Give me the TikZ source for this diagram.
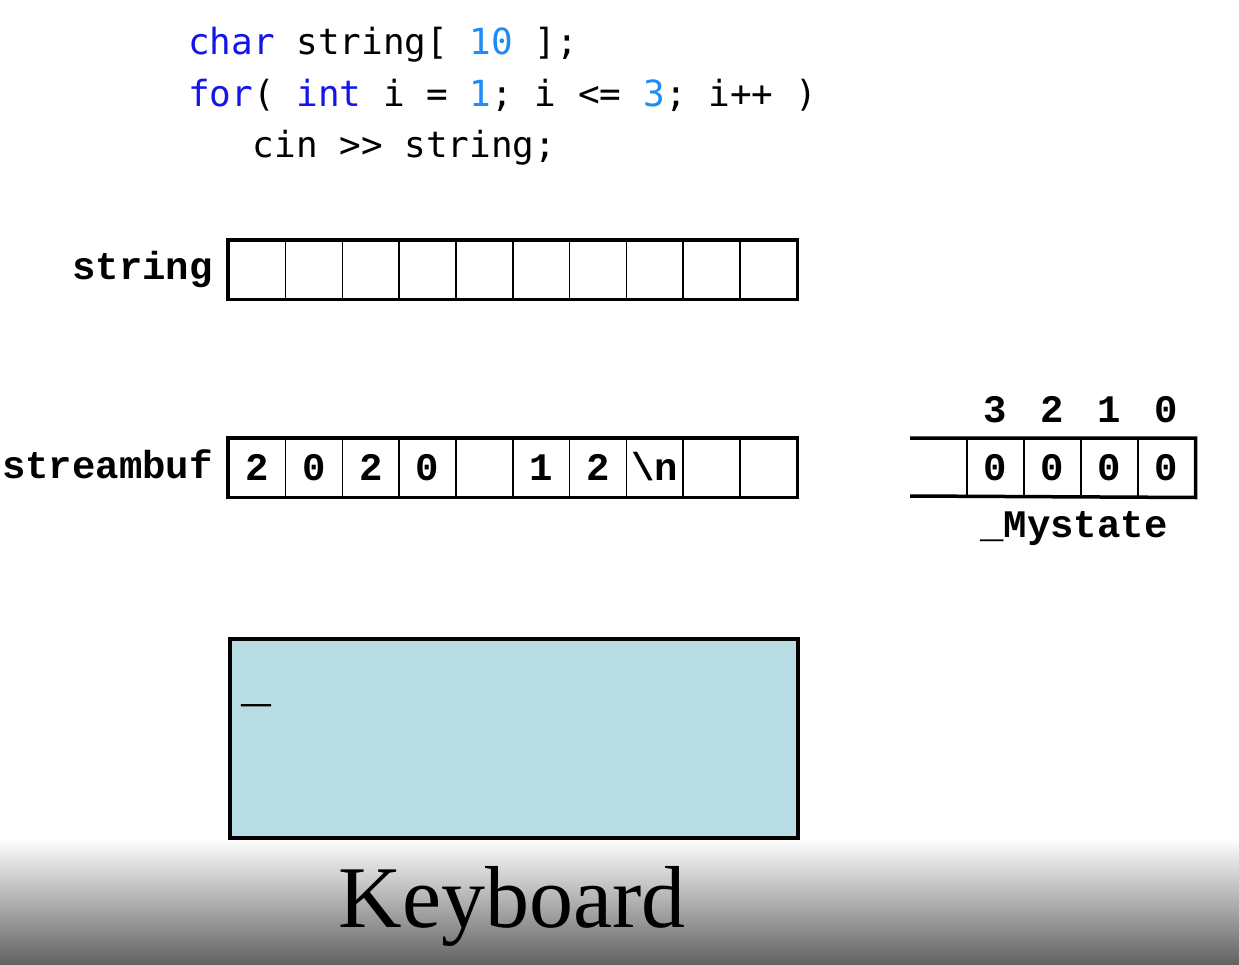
\documentclass[tikz,border=0pt]{standalone}
\usepackage{fontspec}
\setmonofont{DejaVu Sans Mono}
\newfontfamily\cour{Liberation Mono}
\newfontfamily\tms{Liberation Serif}
\definecolor{kw}{RGB}{20,20,235}
\definecolor{num}{RGB}{30,140,245}
\definecolor{kb}{RGB}{184,220,228}
\begin{document}
\begin{tikzpicture}[x=1pt,y=-1pt,
  code/.style={anchor=base west,inner sep=0pt,font=\ttfamily\fontsize{36}{36}\selectfont},
  lbl/.style={anchor=base east,inner sep=0pt,font=\cour\bfseries\fontsize{39}{39}\selectfont},
  cell/.style={draw,line width=1.5pt,minimum width=56.8pt,minimum height=58pt,inner sep=0pt,anchor=north west,font=\cour\bfseries\fontsize{39}{39}\selectfont,text height=25pt,text depth=0pt},
  mcell/.style={cell,minimum width=57pt},
  idx/.style={anchor=base,inner sep=0pt,font=\cour\bfseries\fontsize{39}{39}\selectfont},
  thick border/.style={line width=3.5pt}]
\useasboundingbox (0,0) rectangle (1239,965);
\fill[white] (0,0) rectangle (1239,965);
\shade[top color=white,bottom color=black!62] (0,838) rectangle (1239,965);
% code
\node[code] (c1) at (188,55) {\textcolor{kw}{char} string[ \textcolor{num}{10} ];};
\node[code] (c2) at (188,107) {\textcolor{kw}{for}( \textcolor{kw}{int} i = \textcolor{num}{1}; i <= \textcolor{num}{3}; i++ )};
\node[code] (c3) at (252.5,158) {cin >> string;};
% string array
\node[lbl] (lstr) at (213,280) {string};
\foreach \i in {0,...,9}
  \node[cell] (s\i) at ({228+56.8*\i},240) {};
\draw[thick border] (s0.north west) rectangle (s9.south east);
% streambuf
\node[lbl] (lbuf) at (213,478) {streambuf};
\foreach \i/\t in {0/2,1/0,2/2,3/0,4/{},5/1,6/2,7/{\textbackslash n},8/{},9/{}}
  \node[cell] (b\i) at ({228+56.8*\i},438) {\t};
\draw[thick border] (b0.north west) rectangle (b9.south east);
% Mystate
\foreach \i in {0,...,3}
  \node[mcell] (m\i) at ({966+57*\i},438) {0};
\coordinate (mtl) at (910,438);
\coordinate (mbl) at (910,496);
\draw[thick border] (mtl) -- (m3.north east) -- (m3.south east) -- (mbl);
\foreach \i/\t in {0/3,1/2,2/1,3/0}
  \node[idx] (n\i) at ([yshift=16pt]m\i.north) {\t};
\node[idx] (ms) at (1074,537) {\_Mystate};
% keyboard
\node[draw,line width=4pt,fill=kb,minimum width=568pt,minimum height=199pt,anchor=north west,inner sep=0pt] (kbd) at (228,637) {};
\node[anchor=base west,inner sep=0pt,font=\cour\bfseries\fontsize{50}{50}\selectfont] (cur) at (241,701) {\_};
\node[anchor=base,inner sep=0pt,font=\tms\fontsize{88}{88}\selectfont] (kl) at (512,927) {Keyboard};
\end{tikzpicture}
\end{document}
